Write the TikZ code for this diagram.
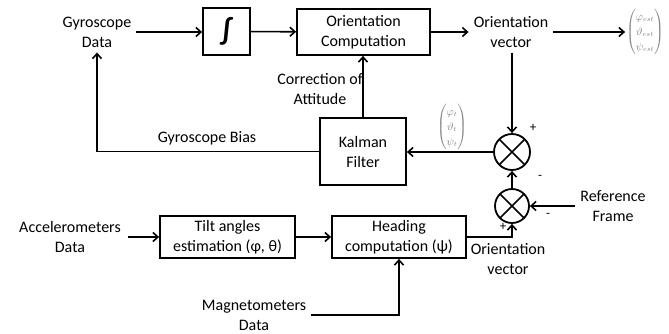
\documentclass[tikz,border=0pt]{standalone}
\usepackage{amsmath}
\usepackage{fontspec}
\setmainfont{Carlito}
\usetikzlibrary{arrows.meta,positioning}
\tikzset{>={Straight Barb[length=5pt,width=9pt]}}

\begin{document}
\begin{tikzpicture}[x=1pt,y=-1pt,
  every node/.append style={font=\fontsize{16}{20}\selectfont},
  block/.style={draw,line width=1.8pt,align=center,inner sep=0pt},
  txt/.style={align=center,inner sep=5pt},
  sumc/.style={draw,circle,line width=1.8pt,minimum size=36pt,inner sep=0pt,
    path picture={\draw[line width=1.6pt] (path picture bounding box.north west)--(path picture bounding box.south east)
      (path picture bounding box.north east)--(path picture bounding box.south west);}},
  vec/.style={inner sep=1pt,text=gray,font=\fontsize{10.5}{15}\selectfont},
  sgn/.style={inner sep=0pt,font=\fontsize{13}{13}\selectfont},
  arr/.style={->,line width=1.6pt}]
  \useasboundingbox (0,0) rectangle (669,333);

  \node[txt] (gyro) at (97,32) {Gyroscope\\Data};
  \node[block,minimum width=47pt,minimum height=47pt] (integ) at (226.5,31.5) {\fontsize{30}{30}\selectfont\bfseries ∫};
  \node[block,minimum width=133pt,minimum height=46pt] (orient) at (363.5,32) {Orientation\\Computation};
  \node[txt] (ovec) at (511,32) {Orientation\\vector};
  \node[vec] (est) at (645,32) {$\begin{pmatrix}\varphi_{est}\\ \vartheta_{est}\\ \psi_{est}\end{pmatrix}$};
  \node[sumc] (s1) at (512,152) {};
  \node[sumc,minimum size=34pt] (s2) at (512,206) {};
  \node[block,minimum width=86pt,minimum height=67pt] (kalman) at (363,151.5) {Kalman\\Filter};
  \node[vec] (meas) at (452,127) {$\begin{pmatrix}\varphi_t\\ \vartheta_t\\ \psi_t\end{pmatrix}$};
  \node[txt] (ref) at (613,206) {Reference\\Frame};
  \node[txt,inner sep=7pt] (acc) at (70,237) {Accelerometers\\Data};
  \node[block,minimum width=135pt,minimum height=42pt] (tilt) at (227.5,237) {Tilt angles\\estimation (φ, θ)};
  \node[block,minimum width=134pt,minimum height=42pt] (head) at (399,237) {Heading\\computation (ψ)};
  \node[txt,inner sep=1pt] (mag) at (254,315) {Magnetometers\\Data};

  \node[txt] (corr) at (320,89) {Correction of\\Attitude};
  \node (bias) at (207,138) {Gyroscope Bias};
  \node[txt] (ovec2) at (508,259) {Orientation\\vector};
  \node[sgn] (p1) at (533,128) {+};
  \node[sgn] (m1) at (540,177) {-};
  \node[sgn] (m2) at (548,215) {-};
  \node[sgn] (p2) at (503,227) {+};

  \draw[arr] (gyro.east) -- (gyro.east -| integ.west);
  \draw[arr] (integ) -- (orient);
  \draw[arr] (orient) -- (orient.east -| ovec.west);
  \draw[arr] (ovec.east) -- (ovec.east -| est.west);
  \draw[arr] (s1.north |- ovec.south) -- (s1.north);
  \draw[arr] (s2) -- (s1);
  \draw[arr] (s1.west) -- (s1.west -| kalman.east);
  \draw[arr] (kalman.north) -- (kalman.north |- orient.south);
  \draw[arr] (kalman.west) -| (gyro.south);
  \draw[arr] (ref) -- (s2);
  \draw[arr] (acc) -- (tilt);
  \draw[arr] (tilt) -- (head);
  \draw[arr] (head.east) -| (s2.south);
  \draw[arr] ([xshift=4pt]mag.east) -| (head.south);
\end{tikzpicture}
\end{document}
